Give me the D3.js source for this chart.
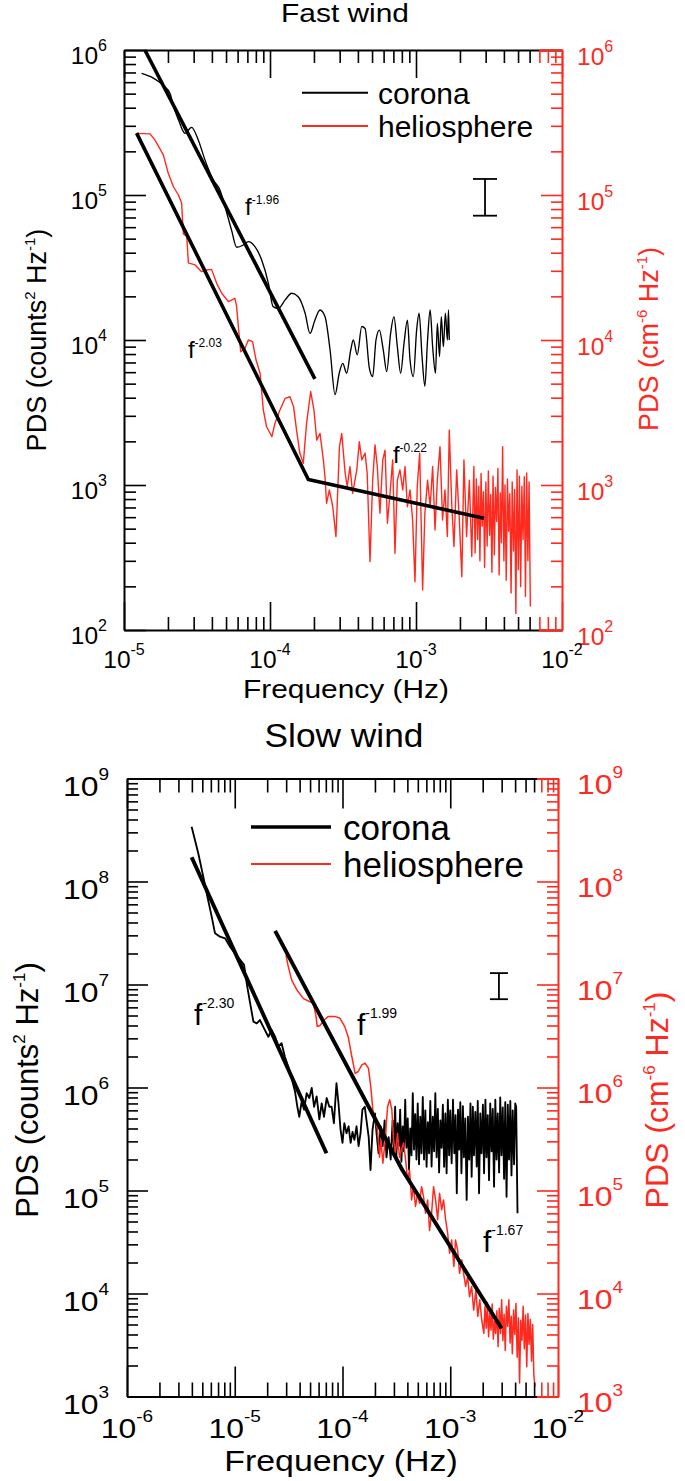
<!DOCTYPE html>
<html><head><meta charset="utf-8">
<script src="https://cdn.jsdelivr.net/npm/d3@7"></script>
<style>html,body{margin:0;padding:0;background:#fff;}svg{display:block;}text{white-space:pre;}</style>
</head><body>
<script>
// ---------------- DATA ----------------
// Fast wind (top panel)
const fastCoronaFreq = [1.32e-5,1.59e-5,1.86e-5,2.07e-5,2.18e-5,2.36e-5,2.62e-5,2.90e-5,3.23e-5,3.59e-5,4.09e-5,4.55e-5,4.92e-5,5.46e-5,5.91e-5,6.57e-5,7.11e-5,7.89e-5,8.77e-5,9.75e-5,1.05e-4,1.14e-4,1.27e-4,1.41e-4,1.56e-4,1.74e-4,1.88e-4,2.03e-4,2.20e-4,2.38e-4,2.58e-4,2.79e-4,2.98e-4,3.15e-4,3.35e-4,3.57e-4,3.72e-4,3.96e-4,4.25e-4,4.48e-4,4.79e-4,5.05e-4,5.32e-4,5.61e-4,5.97e-4,6.30e-4,6.70e-4,7.06e-4,7.45e-4,7.85e-4,8.28e-4,8.73e-4,9.10e-4,9.59e-4,1.01e-3,1.05e-3,1.10e-3,1.15e-3,1.20e-3,1.25e-3,1.30e-3,1.36e-3,1.40e-3,1.45e-3,1.49e-3,1.54e-3,1.59e-3,1.64e-3,1.67e-3,1.69e-3];
const fastCoronaPds = [6.9e5,6.4e5,5.7e5,5.0e5,4.1e5,3.3e5,2.66e5,2.93e5,2.39e5,1.74e5,1.27e5,1.08e5,8.3e4,5.7e4,4.36e4,4.52e4,4.77e4,4.40e4,3.56e4,2.46e4,1.70e4,1.65e4,1.89e4,2.10e4,1.99e4,1.53e4,1.11e4,1.37e4,1.61e4,1.45e4,8.5e3,4.2e3,5.9e3,6.9e3,5.9e3,8.5e3,1.0e4,7.9e3,1.24e4,1.20e4,6.4e3,5.6e3,1.0e4,1.17e4,8.5e3,6.05e3,1.11e4,1.45e4,9.0e3,5.9e3,9.5e3,1.37e4,7.3e3,5.6e3,1.17e4,1.53e4,7.7e3,4.8e3,1.0e4,1.61e4,9.0e3,5.9e3,1.30e4,7.7e3,1.45e4,9.0e3,1.53e4,1.0e4,1.61e4,1.0e4];
const fastHelioFreq = [1.22e-5,1.51e-5,1.63e-5,1.86e-5,2.01e-5,2.18e-5,2.36e-5,2.48e-5,2.55e-5,2.69e-5,2.76e-5,3.06e-5,3.40e-5,3.68e-5,3.98e-5,4.31e-5,4.67e-5,5.19e-5,5.75e-5,5.91e-5,6.07e-5,6.30e-5,6.75e-5,7.11e-5,7.60e-5,8.02e-5,8.55e-5,9.0e-5,9.48e-5,1.03e-4,1.08e-4,1.17e-4,1.27e-4,1.37e-4,1.45e-4,1.52e-4,1.60e-4,1.69e-4,1.78e-4,1.90e-4,2.00e-4,2.09e-4,2.20e-4,2.32e-4,2.38e-4,2.44e-4,2.55e-4,2.69e-4,2.83e-4,2.99e-4,3.10e-4,3.27e-4,3.38e-4,3.53e-4,3.68e-4,3.93e-4,4.09e-4,4.25e-4,4.48e-4,4.63e-4,4.84e-4,5.05e-4,5.24e-4,5.43e-4,5.66e-4,5.92e-4,6.14e-4,6.37e-4,6.64e-4,6.92e-4,7.18e-4,7.45e-4,7.76e-4,8.11e-4,8.41e-4,8.73e-4,9.10e-4,9.48e-4,9.84e-4,1.02e-3,1.06e-3,1.11e-3,1.15e-3,1.20e-3,1.25e-3,1.30e-3,1.35e-3,1.40e-3,1.46e-3,1.52e-3,1.58e-3,1.64e-3,1.69e-3,1.76e-3,1.82e-3,1.90e-3,1.98e-3,2.06e-3,2.13e-3,2.22e-3,2.32e-3,2.41e-3,
  2.49e-3,2.54e-3,2.59e-3,2.64e-3,2.69e-3,2.74e-3,2.79e-3,2.84e-3,2.90e-3,2.95e-3,3.01e-3,3.07e-3,3.13e-3,3.19e-3,3.25e-3,3.31e-3,3.37e-3,3.44e-3,3.50e-3,3.57e-3,3.64e-3,3.71e-3,3.78e-3,3.85e-3,3.92e-3,4.00e-3,4.07e-3,4.15e-3,4.23e-3,4.31e-3,4.39e-3,4.48e-3,4.56e-3,4.65e-3,4.74e-3,4.83e-3,4.92e-3,5.02e-3,5.11e-3,5.21e-3,5.31e-3,5.41e-3,5.52e-3,5.62e-3,5.73e-3,5.84e-3,5.95e-3,6.07e-3];
const fastHelioPds = [2.66e5,2.64e5,2.39e5,1.89e5,1.41e5,1.14e5,1.0e5,8.8e4,5.4e4,5.2e4,3.4e4,3.3e4,2.96e4,3.04e4,3.07e4,2.46e4,2.10e4,1.84e4,1.94e4,1.70e4,1.24e4,8.3e3,8.8e3,1.0e4,9.75e3,7.3e3,5.9e3,3.29e3,2.52e3,2.15e3,2.66e3,3.29e3,3.96e3,4.06e3,3.47e3,2.39e3,1.66e3,1.41e3,2.66e3,4.41e3,3.29e3,2.04e3,2.27e3,1.49e3,1.14e3,748,925,708,441,1.84e3,2.27e3,1.21e3,975,1.34e3,877,1.27e3,1.99e3,1.49e3,1.66e3,1.21e3,296,1.08e3,1.89e3,1.34e3,638,1.49e3,1.74e3,545,877,1.49e3,338,1.08e3,1.27e3,925,1.34e3,708,925,574,215,975,1.66e3,189,638,1.08e3,708,1.34e3,490,1.08e3,1.84e3,574,925,441,2.39e3,708,376,1.27e3,574,233,1.49e3,441,1.08e3,321,
  1.34e3,340,1.10e3,420,980,300,1.20e3,520,900,270,1.05e3,380,1.25e3,450,860,250,1.15e3,330,960,560,1.30e3,240,880,400,1.84e3,300,1.00e3,220,1.10e3,480,870,180,1.05e3,350,930,130,1.27e3,260,1.15e3,199,980,420,1.14e3,170,1.21e3,300,1.05e3,145];
const fastCoronaFitFreq = [1.39e-5, 2.03e-4];
const fastCoronaFitPds  = [1.0e6, 5.4e3];
const fastHelioFitFreq  = [1.22e-5, 1.83e-4, 2.92e-3];
const fastHelioFitPds   = [2.67e5, 1.09e3, 5.9e2];
const fastErrFreq = [2.97e-3];
const fastErrPds  = [7.2e4, 1.29e5];
const fastNoteText = ["-1.96", "-2.03", "-0.22"];
const fastNoteFreq = [6.75e-5, 2.74e-5, 6.95e-4];
const fastNotePds  = [7.3e4, 7.5e3, 1.42e3];
const fastXExp = [-5, -4, -3, -2];
const fastYExp = [2, 3, 4, 5, 6];

// Slow wind (bottom panel)
const slowCoronaFreq = [3.98e-6,4.59e-6,5.11e-6,5.57e-6,6.11e-6,6.56e-6,7.30e-6,8.13e-6,9.04e-6,1.00e-5,1.10e-5,1.22e-5,1.29e-5,1.39e-5,1.49e-5,1.60e-5,1.71e-5,1.87e-5,2.05e-5,2.20e-5,2.37e-5,2.54e-5,2.72e-5,2.92e-5,3.14e-5,3.37e-5,3.62e-5,3.81e-5,3.97e-5,4.18e-5,4.40e-5,4.65e-5,4.92e-5,5.18e-5,5.45e-5,5.75e-5,6.10e-5,6.41e-5,6.73e-5,7.13e-5,7.55e-5,7.93e-5,8.32e-5,8.79e-5,9.18e-5,9.59e-5,1.00e-4,1.04e-4,1.09e-4,1.14e-4,1.19e-4,1.24e-4,1.29e-4,1.35e-4,1.41e-4,1.47e-4,1.53e-4,1.61e-4,1.67e-4,1.75e-4,1.82e-4,1.90e-4,2.00e-4,2.07e-4,2.16e-4,2.26e-4,2.36e-4,2.46e-4,2.56e-4,2.68e-4,2.80e-4,
  2.92e-4,3.00e-4,3.08e-4,3.16e-4,3.25e-4,3.34e-4,3.43e-4,3.52e-4,3.62e-4,3.72e-4,3.82e-4,3.92e-4,4.03e-4,4.14e-4,4.25e-4,4.37e-4,4.49e-4,4.61e-4,4.73e-4,4.86e-4,4.99e-4,5.13e-4,5.27e-4,5.41e-4,5.56e-4,5.71e-4,5.87e-4,6.03e-4,6.19e-4,6.36e-4,6.53e-4,6.71e-4,6.89e-4,7.08e-4,7.27e-4,7.47e-4,7.67e-4,7.88e-4,8.09e-4,8.31e-4,8.54e-4,8.77e-4,9.01e-4,9.25e-4,9.50e-4,9.76e-4,1.00e-3,1.03e-3,1.06e-3,1.09e-3,1.12e-3,1.15e-3,1.18e-3,1.21e-3,1.24e-3,1.27e-3,1.31e-3,1.34e-3,1.38e-3,1.42e-3,1.46e-3,1.50e-3,1.54e-3,1.58e-3,1.62e-3,1.66e-3,1.71e-3,1.76e-3,1.80e-3,1.85e-3,1.90e-3,1.95e-3,2.01e-3,2.06e-3,2.12e-3,2.17e-3,2.23e-3,2.29e-3,2.35e-3,2.42e-3,2.48e-3,2.55e-3,2.62e-3,2.69e-3,2.76e-3,2.84e-3,2.91e-3,2.99e-3,3.07e-3,3.16e-3,3.24e-3,3.33e-3,3.42e-3,3.51e-3,3.61e-3,3.70e-3,3.80e-3,3.91e-3,4.01e-3,4.09e-3,4.21e-3];
const slowCoronaPds = [3.40e8,1.87e8,1.11e8,7.13e7,4.56e7,3.14e7,2.91e7,2.81e7,2.33e7,2.01e7,1.79e7,1.55e7,1.03e7,6.56e6,4.36e6,4.20e6,4.52e6,3.75e6,3.11e6,3.61e6,3.11e6,2.49e6,2.69e6,1.99e6,1.59e6,1.23e6,9.2e5,6.5e5,5.2e5,7.3e5,6.1e5,8.8e5,7.9e5,9.9e5,6.5e5,8.2e5,4.9e5,7.0e5,5.2e5,7.9e5,6.5e5,6.5e5,4.5e5,1.10e6,7.0e5,3.9e5,2.9e5,4.5e5,3.6e5,4.2e5,2.9e5,3.7e5,3.1e5,4.2e5,2.7e5,3.6e5,6.1e5,6.5e5,4.8e5,3.3e5,1.58e5,3.9e5,5.6e5,3.6e5,2.3e5,4.2e5,2.7e5,4.8e5,2.1e5,3.3e5,2.0e5,
  4.8e5,2.5e5,6.5e5,2.1e5,4.5e5,2.7e5,6.1e5,1.9e5,4.2e5,2.4e5,7.6e5,2.6e5,5.0e5,1.6e5,4.0e5,2.2e5,8.8e5,2.5e5,5.5e5,2.0e5,
  7.0e5,1.8e5,5.2e5,2.3e5,8.1e5,2.0e5,6.0e5,1.7e5,4.6e5,2.3e5,7.4e5,1.71e5,5.2e5,2.4e5,8.8e5,2.1e5,6.2e5,1.5e5,4.8e5,2.6e5,
  6.8e5,1.7e5,5.6e5,1.47e5,7.6e5,2.2e5,6.0e5,1.84e5,7.6e5,2.3e5,5.4e5,9.4e4,6.1e5,2.5e5,7.2e5,1.47e5,6.6e5,2.1e5,5.0e5,8.1e4,
  5.2e5,2.0e5,7.0e5,1.36e5,6.5e5,2.2e5,5.8e5,1.71e5,7.4e5,9.4e4,5.6e5,2.3e5,6.8e5,1.47e5,7.6e5,2.1e5,5.4e5,1.26e5,7.0e5,2.4e5,
  6.2e5,1.09e5,7.6e5,2.0e5,5.6e5,1.5e5,8.0e5,2.2e5,6.4e5,1.3e5,7.2e5,8.7e4,6.8e5,2.0e5,7.4e5,1.4e5,6.0e5,1.8e5,7.0e5,6.5e5,6.0e4];
const slowHelioFreq = [2.99e-5,3.14e-5,3.37e-5,3.76e-5,4.34e-5,4.99e-5,5.36e-5,5.68e-5,5.83e-5,6.18e-5,6.73e-5,7.40e-5,8.51e-5,9.48e-5,1.05e-4,1.13e-4,1.22e-4,1.31e-4,1.40e-4,1.51e-4,1.62e-4,1.74e-4,1.83e-4,1.91e-4,2.01e-4,2.11e-4,2.21e-4,2.27e-4,2.37e-4,2.49e-4,2.62e-4,2.74e-4,2.87e-4,2.98e-4,3.10e-4,3.24e-4,3.38e-4,3.53e-4,3.69e-4,3.85e-4,4.02e-4,4.19e-4,4.38e-4,4.56e-4,4.76e-4,4.98e-4,5.19e-4,5.42e-4,5.65e-4,5.90e-4,6.17e-4,6.43e-4,6.71e-4,7.00e-4,7.31e-4,7.64e-4,7.96e-4,8.32e-4,8.67e-4,9.06e-4,9.46e-4,9.86e-4,1.03e-3,1.08e-3,1.12e-3,1.17e-3,1.22e-3,1.28e-3,1.33e-3,1.39e-3,1.45e-3,1.51e-3,1.58e-3,1.65e-3,1.73e-3,1.80e-3,1.88e-3,1.96e-3,
  2.05e-3,2.10e-3,2.16e-3,2.21e-3,2.27e-3,2.33e-3,2.39e-3,2.45e-3,2.51e-3,2.58e-3,2.64e-3,2.71e-3,2.78e-3,2.85e-3,2.93e-3,3.00e-3,3.08e-3,3.16e-3,3.24e-3,3.32e-3,3.41e-3,3.50e-3,3.59e-3,3.68e-3,3.77e-3,3.87e-3,3.97e-3,4.07e-3,4.18e-3,4.29e-3,4.40e-3,4.51e-3,4.63e-3,4.75e-3,4.87e-3,5.00e-3,5.13e-3,5.26e-3,5.39e-3,5.53e-3,5.68e-3,5.82e-3,5.97e-3,6.12e-3];
const slowHelioPds = [1.93e7,1.49e7,1.11e7,8.9e6,7.3e6,6.8e6,6.6e6,4.9e6,3.9e6,4.0e6,4.5e6,4.9e6,4.9e6,4.7e6,3.9e6,3.1e6,2.0e6,1.37e6,1.43e6,1.66e6,1.72e6,1.54e6,1.02e6,6.1e5,4.8e5,3.9e5,2.1e5,3.1e5,1.84e5,3.1e5,6.5e5,7.6e5,6.1e5,3.1e5,2.3e5,3.6e5,2.1e5,2.5e5,2.9e5,2.0e5,1.26e5,1.58e5,8.1e4,1.09e5,7.0e4,9.4e4,7.5e4,1.09e5,8.7e4,6.0e4,8.1e4,4.1e4,6.0e4,1.09e5,8.1e4,5.2e4,9.4e4,6.5e4,8.1e4,5.2e4,3.85e4,2.46e4,3.3e4,1.83e4,3.3e4,2.65e4,1.57e4,2.12e4,1.57e4,1.17e4,1.46e4,9.3e3,1.17e4,6.9e3,1.08e4,6.0e3,8.7e3,5.5e3,
  4.1e3,7.5e3,4.6e3,8.2e3,3.8e3,6.4e3,4.4e3,7.9e3,3.6e3,5.5e3,4.1e3,6.8e3,3.05e3,7.2e3,4.1e3,8.7e3,3.5e3,6.3e3,2.8e3,7.5e3,4.8e3,8.7e3,3.3e3,6.0e3,2.6e3,6.9e3,4.0e3,8.0e3,2.4e3,5.8e3,1.35e3,5.5e3,3.5e3,7.5e3,2.9e3,6.2e3,1.95e3,6.4e3,3.2e3,5.6e3,2.2e3,5.0e3,1.6e3,1.25e3];
const slowCoronaFitFreq = [3.98e-6, 7.1e-5];
const slowCoronaFitPds  = [1.72e8, 2.3e5];
const slowHelioFitFreq  = [2.37e-5, 3.59e-4, 3.0e-3];
const slowHelioFitPds   = [3.31e7, 1.58e5, 4.57e3];
const slowErrFreq = [2.83e-3];
const slowErrPds  = [7.2e6, 1.29e7];
const slowNoteText = ["-2.30", "-1.99", "-1.67"];
const slowNoteFreq = [4.19e-6, 1.36e-4, 2.01e-3];
const slowNotePds  = [4.05e6, 3.24e6, 2.53e4];
const slowXExp = [-6, -5, -4, -3, -2];
const slowYExp = [3, 4, 5, 6, 7, 8, 9];

const seriesNames = ["corona", "heliosphere"];

// ---------------- DRAWING ----------------
const RED = "#ff2a1f";
const FONT = "'Liberation Sans', Arial, Helvetica, sans-serif";
const svg = d3.select("body").append("svg").attr("width", 685).attr("height", 1481);

function rich(parent, x, y, parts, o) {
  let tr = `translate(${x},${y})`;
  if (o.rot) tr += ` rotate(${o.rot})`;
  if (o.sx && o.sx !== 1) tr += ` scale(${o.sx},1)`;
  const g = parent.append("g").attr("transform", tr);
  const t = g.append("text").attr("text-anchor", o.anchor || "start")
    .attr("font-family", FONT).attr("fill", o.fill || "#000").attr("font-size", o.size);
  let raised = false;
  parts.forEach(p => {
    const sup = typeof p !== "string";
    const ts = t.append("tspan").text(sup ? p.sup : p);
    if (sup) { ts.attr("font-size", o.supSize).attr("dy", -o.rise); raised = true; }
    else { ts.attr("font-size", o.size); if (raised) { ts.attr("dy", o.rise); raised = false; } }
  });
  return g;
}

function zip(f, p) { return f.map((v, i) => [v, p[i]]); }

function drawPanel(c) {
  const x = c.x, y = c.y;
  const [x0, x1] = x.range();
  const [yb, yt] = y.range();
  const g = svg.append("g");

  const line = (curve) => d3.line().x(d => x(d[0])).y(d => y(d[1])).curve(curve || d3.curveLinear);

  c.curves.forEach(s => {
    g.append("path").attr("d", line(s.curve)(zip(s.f, s.p)))
      .attr("fill", "none").attr("stroke", s.color).attr("stroke-width", s.w)
      .attr("stroke-linejoin", "round");
  });
  c.fits.forEach(s => {
    g.append("path").attr("d", line()(zip(s.f, s.p)))
      .attr("fill", "none").attr("stroke", "#000").attr("stroke-width", c.fitW)
      .attr("stroke-linejoin", "round").attr("stroke-linecap", "butt");
  });

  const ex = x(c.err.f[0]), e1 = y(c.err.p[0]), e2 = y(c.err.p[1]);
  g.append("line").attr("x1", ex).attr("x2", ex).attr("y1", e1).attr("y2", e2).attr("stroke", "#000").attr("stroke-width", 1.8);
  [e1, e2].forEach(v => g.append("line").attr("x1", ex - c.errCap).attr("x2", ex + c.errCap).attr("y1", v).attr("y2", v).attr("stroke", "#000").attr("stroke-width", 1.8));

  c.notes.t.forEach((t, i) => {
    rich(g, x(c.notes.f[i]), y(c.notes.p[i]), ["f", {sup: t}], {size: c.noteSize, supSize: c.noteSup, rise: c.noteRise});
  });

  const L = c.legend;
  g.append("line").attr("x1", L.x1).attr("x2", L.x2).attr("y1", L.y[0]).attr("y2", L.y[0]).attr("stroke", "#000").attr("stroke-width", L.w[0]);
  g.append("line").attr("x1", L.x1).attr("x2", L.x2).attr("y1", L.y[1]).attr("y2", L.y[1]).attr("stroke", RED).attr("stroke-width", L.w[1]);
  seriesNames.forEach((n, i) => g.append("text").attr("x", L.tx).attr("y", L.y[i] + L.dy).attr("font-family", FONT).attr("font-size", L.size).attr("fill", "#000").text(n));

  const xMaj = c.xExp.map(e => Math.pow(10, e));
  const xMin = [];
  c.xExp.slice(0, -1).forEach(e => { for (let k = 2; k <= 9; k++) xMin.push(k * Math.pow(10, e)); });
  const yMaj = c.yExp.map(e => Math.pow(10, e));
  const yMin = [];
  c.yExp.slice(0, -1).forEach(e => { for (let k = 2; k <= 9; k++) yMin.push(k * Math.pow(10, e)); });

  function styleAxis(ag, color, keepDomain) {
    ag.selectAll(".tick line").attr("stroke", color).attr("stroke-width", 1.6);
    if (keepDomain) ag.select(".domain").attr("stroke", color).attr("stroke-width", 2);
    else ag.select(".domain").remove();
  }
  function redEnd(ag) {
    ag.selectAll(".tick").filter(d => x(d) > x1 - c.redLen - 0.5).select("line").attr("stroke", RED);
  }
  let a = g.append("g").attr("transform", `translate(0,${yb})`).call(d3.axisBottom(x).tickValues(xMaj).tickSize(-c.xMaj).tickSizeOuter(0).tickFormat(""));
  styleAxis(a, "#000", true); redEnd(a);
  a = g.append("g").attr("transform", `translate(0,${yb})`).call(d3.axisBottom(x).tickValues(xMin).tickSize(-c.xMin).tickSizeOuter(0).tickFormat(""));
  styleAxis(a, "#000", false); redEnd(a);
  a = g.append("g").attr("transform", `translate(0,${yt})`).call(d3.axisTop(x).tickValues(xMaj).tickSize(-c.xMaj).tickSizeOuter(0).tickFormat(""));
  styleAxis(a, "#000", true); redEnd(a);
  a = g.append("g").attr("transform", `translate(0,${yt})`).call(d3.axisTop(x).tickValues(xMin).tickSize(-c.xMin).tickSizeOuter(0).tickFormat(""));
  styleAxis(a, "#000", false); redEnd(a);
  [yb, yt].forEach(v => g.append("line").attr("x1", x1 - c.redLen).attr("x2", x1 + 1).attr("y1", v + 0.5).attr("y2", v + 0.5).attr("stroke", RED).attr("stroke-width", 2));
  a = g.append("g").attr("transform", `translate(${x0},0)`).call(d3.axisLeft(y).tickValues(yMaj).tickSize(-c.yMaj).tickSizeOuter(0).tickFormat(""));
  styleAxis(a, "#000", true);
  a = g.append("g").attr("transform", `translate(${x0},0)`).call(d3.axisLeft(y).tickValues(yMin).tickSize(-c.yMin).tickSizeOuter(0).tickFormat(""));
  styleAxis(a, "#000", false);
  a = g.append("g").attr("transform", `translate(${x1},0)`).call(d3.axisRight(y).tickValues(yMaj).tickSize(-c.rMaj).tickSizeOuter(0).tickFormat(""));
  styleAxis(a, RED, true);
  a = g.append("g").attr("transform", `translate(${x1},0)`).call(d3.axisRight(y).tickValues(yMin).tickSize(-c.rMin).tickSizeOuter(0).tickFormat(""));
  styleAxis(a, RED, false);

  const T = c.tick;
  c.yExp.forEach(e => {
    const v = y(Math.pow(10, e));
    rich(g, x0 - T.lGap, v + T.lDy, ["10", {sup: String(e)}], {anchor: "end", size: T.size, supSize: T.sup, rise: T.rise, sx: T.sx});
    rich(g, x1 + T.rGap, v + T.rDy, ["10", {sup: String(e)}], {anchor: "start", size: T.size, supSize: T.sup, rise: T.rise, sx: T.sx, fill: RED});
  });
  c.xExp.forEach(e => {
    rich(g, x(Math.pow(10, e)), yb + T.xDy, ["10", {sup: String(e)}], {anchor: "middle", size: T.size, supSize: T.sup, rise: T.rise, sx: T.sx});
  });

  const A = c.lab;
  rich(g, A.titleX, A.titleY, [c.title], {anchor: "middle", size: A.titleSize, sx: A.titleSx});
  rich(g, A.xlX, A.xlY, ["Frequency (Hz)"], {anchor: "middle", size: A.xlSize, sx: A.xlSx});
  rich(g, A.ylLX, A.ylLY, ["PDS (counts", {sup: "2"}, " Hz", {sup: "-1"}, ")"], {anchor: "middle", rot: -90, size: A.ylSize, supSize: A.ylSup, rise: A.ylRise});
  rich(g, A.ylRX, A.ylRY, ["PDS (cm", {sup: "-6"}, " Hz", {sup: "-1"}, ")"], {anchor: "middle", rot: -90, size: A.ylRSize || A.ylSize, supSize: A.ylSup, rise: A.ylRise, fill: RED});
}

drawPanel({
  title: "Fast wind",
  x: d3.scaleLog().domain([1e-5, 1e-2]).range([124, 562]),
  y: d3.scaleLog().domain([1e2, 1e6]).range([630, 50]),
  xExp: fastXExp, yExp: fastYExp,
  curves: [
    {f: fastHelioFreq, p: fastHelioPds, color: RED, w: 1.4},
    {f: fastCoronaFreq, p: fastCoronaFreq.length ? fastCoronaPds : [], color: "#000", w: 1.35, curve: d3.curveMonotoneX}
  ],
  fits: [{f: fastCoronaFitFreq, p: fastCoronaFitPds}, {f: fastHelioFitFreq, p: fastHelioFitPds}],
  fitW: 3.6,
  err: {f: fastErrFreq, p: fastErrPds}, errCap: 12,
  notes: {t: fastNoteText, f: fastNoteFreq, p: fastNotePds},
  noteSize: 24, noteSup: 12, noteRise: 11,
  legend: {x1: 302, x2: 368, y: [92.7, 126], w: [2, 2], tx: 378, dy: 11, size: 30},
  xMaj: 28, xMin: 13, yMaj: 22, yMin: 12, rMaj: 21, rMin: 11, redLen: 23,
  tick: {size: 24.5, sup: 16, rise: 13, sx: 1, lGap: 17, lDy: 14, rGap: 15, rDy: 15, xDy: 38},
  lab: {titleX: 345, titleY: 22, titleSize: 26, titleSx: 1.15,
        xlX: 346, xlY: 698, xlSize: 26, xlSx: 1.15,
        ylLX: 46, ylLY: 340, ylRX: 658, ylRY: 339, ylSize: 27, ylSup: 15, ylRise: 11}
});

drawPanel({
  title: "Slow wind",
  x: d3.scaleLog().domain([1e-6, 1e-2]).range([127, 558]),
  y: d3.scaleLog().domain([1e3, 1e9]).range([1396.5, 778.5]),
  xExp: slowXExp, yExp: slowYExp,
  curves: [
    {f: slowCoronaFreq, p: slowCoronaPds, color: "#000", w: 1.85},
    {f: slowHelioFreq, p: slowHelioPds, color: RED, w: 1.5}
  ],
  fits: [{f: slowCoronaFitFreq, p: slowCoronaFitPds}, {f: slowHelioFitFreq, p: slowHelioFitPds}],
  fitW: 3.9,
  err: {f: slowErrFreq, p: slowErrPds}, errCap: 9,
  notes: {t: slowNoteText, f: slowNoteFreq, p: slowNotePds},
  noteSize: 30, noteSup: 14, noteRise: 17,
  legend: {x1: 251, x2: 331, y: [827, 864], w: [3.5, 2], tx: 343, dy: 12.5, size: 35},
  xMaj: 30, xMin: 14, yMaj: 21, yMin: 11, rMaj: 21, rMin: 11, redLen: 21,
  tick: {size: 28.5, sup: 17, rise: 16, sx: 1.12, lGap: 18, lDy: 17, rGap: 19, rDy: 15, xDy: 41.5},
  lab: {titleX: 344, titleY: 747, titleSize: 33, titleSx: 1.07,
        xlX: 341, xlY: 1471, xlSize: 30, xlSx: 1.13,
        ylLX: 38, ylLY: 1090, ylRX: 668, ylRY: 1100, ylSize: 31, ylRSize: 32, ylSup: 17, ylRise: 13}
});
</script>
</body></html>
